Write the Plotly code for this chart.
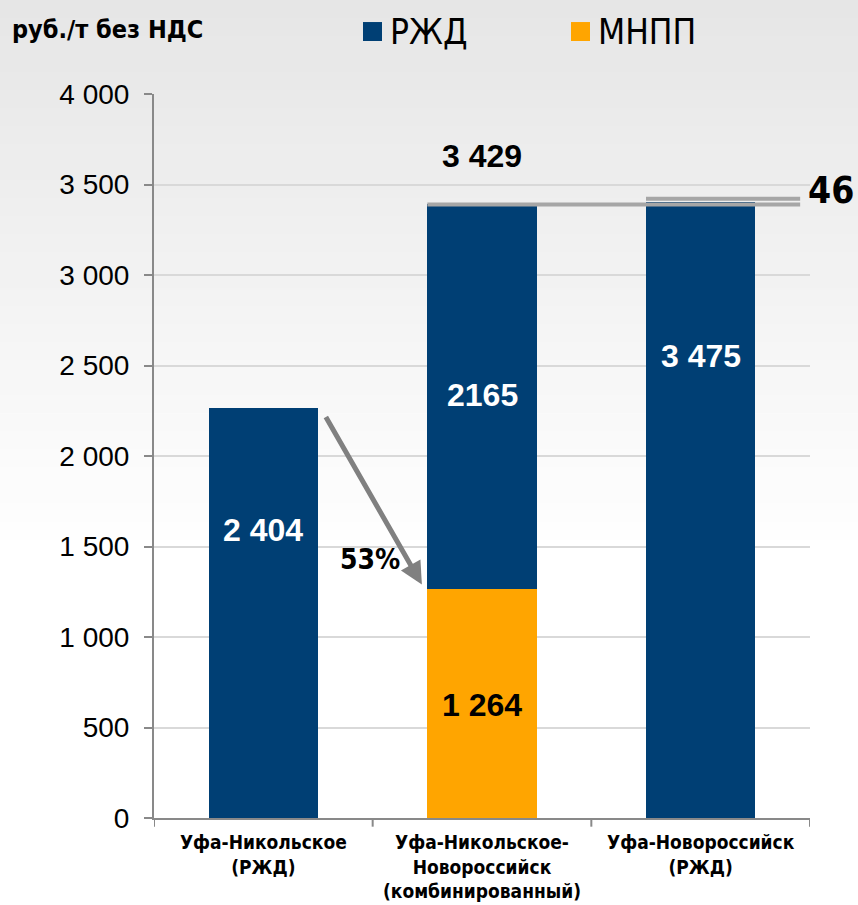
import plotly.graph_objects as go

categories = ["Уфа-Никольское<br>(РЖД)",
              "Уфа-Никольское-<br>Новороссийск<br>(комбинированный)",
              "Уфа-Новороссийск<br>(РЖД)"]
series_names = ["РЖД", "МНПП"]
rzd_values = [2263, 2125, 3405]
mnpp_values = [0, 1265, 0]
rzd_labels = ["2 404", "2165", "3 475"]
mnpp_label = "1 264"
total_label = "3 429"
diff_label = "46"
pct_label = "53%"
line_levels = [3389, 3421]
y_ticks = [0, 500, 1000, 1500, 2000, 2500, 3000, 3500, 4000]
y_ticktext = ["0", "500", "1 000", "1 500", "2 000", "2 500", "3 000", "3 500", "4 000"]
unit_title = "руб./т без НДС"

NAVY = "#003F74"
ORANGE = "#FFA500"
NARROW = "Liberation Sans Narrow, Arial Narrow, DejaVu Sans Condensed, sans-serif"
ARIAL = "Liberation Sans, Arial, sans-serif"

x_idx = list(range(len(categories)))

fig = go.Figure()
fig.add_trace(go.Bar(x=x_idx, y=mnpp_values, name=series_names[1], marker_color=ORANGE,
                     width=0.5, marker_line_width=0))
fig.add_trace(go.Bar(x=x_idx, y=rzd_values, name=series_names[0], marker_color=NAVY,
                     width=0.5, marker_line_width=0))

L, T, B = 154, 94, 818.3
H = B - T
def py2paper(py):
    return (B - py) / H
def px2paper(px):
    return (px - L) / 656.0

shapes = []
n = 30
for i in range(n):
    y0 = i * 18
    y1 = y0 + 18
    frac = min(1.0, (y0 + 9) / 540)
    c = int(0xE6 + (0xFF - 0xE6) * frac)
    shapes.append(dict(type="rect", xref="paper", yref="paper",
                       x0=px2paper(0), x1=px2paper(858), y0=py2paper(y1), y1=py2paper(y0),
                       fillcolor=f"rgb({c},{c},{c})", line_width=0, layer="below"))

shapes.append(dict(type="line", xref="x", yref="y", x0=0.75, x1=2.455,
                   y0=line_levels[0], y1=line_levels[0],
                   line=dict(color="#A6A6A6", width=4)))
shapes.append(dict(type="line", xref="x", yref="y", x0=1.75, x1=2.455,
                   y0=line_levels[1], y1=line_levels[1],
                   line=dict(color="#A6A6A6", width=4)))

shapes.append(dict(type="rect", xref="paper", yref="paper",
                   x0=px2paper(363), x1=px2paper(382), y0=py2paper(41), y1=py2paper(22),
                   fillcolor=NAVY, line_width=0))
shapes.append(dict(type="rect", xref="paper", yref="paper",
                   x0=px2paper(571), x1=px2paper(590), y0=py2paper(41), y1=py2paper(22),
                   fillcolor=ORANGE, line_width=0))

annotations = []
annotations.append(dict(text=series_names[0], xref="paper", yref="paper",
                        x=px2paper(388), y=py2paper(32), xanchor="left", yanchor="middle",
                        showarrow=False, font=dict(family=NARROW, size=35, color="black")))
annotations.append(dict(text=series_names[1], xref="paper", yref="paper",
                        x=px2paper(596), y=py2paper(32), xanchor="left", yanchor="middle",
                        showarrow=False, font=dict(family=NARROW, size=35, color="black")))
annotations.append(dict(text="<b>" + unit_title + "</b>", xref="paper", yref="paper",
                        x=px2paper(10), y=py2paper(29), xanchor="left", yanchor="middle",
                        showarrow=False, font=dict(family=NARROW, size=25, color="black")))

label_y = [1590, 2336, 2550]
for i, t in enumerate(rzd_labels):
    annotations.append(dict(text="<b>" + t + "</b>", x=i, y=label_y[i], xref="x", yref="y",
                            showarrow=False, font=dict(family=ARIAL, size=32, color="white")))
annotations.append(dict(text="<b>" + mnpp_label + "</b>", x=1, y=627, xref="x", yref="y",
                        showarrow=False, font=dict(family=ARIAL, size=32, color="black")))
annotations.append(dict(text="<b>" + total_label + "</b>", x=1, y=3660, xref="x", yref="y",
                        showarrow=False, font=dict(family=ARIAL, size=32, color="black")))
annotations.append(dict(text="<b>" + diff_label + "</b>", xref="paper", yref="y",
                        x=px2paper(856), y=3466, xanchor="right", showarrow=False,
                        font=dict(family=NARROW, size=37, color="black")))
annotations.append(dict(text="<b>" + pct_label + "</b>", x=0.49, y=1426, xref="x", yref="y",
                        showarrow=False, font=dict(family=NARROW, size=28, color="black")))
annotations.append(dict(text="", x=0.725, y=1290, xref="x", yref="y",
                        ax=0.282, ay=2224, axref="x", ayref="y",
                        showarrow=True, arrowhead=2, arrowsize=0.9, arrowwidth=5,
                        arrowcolor="#808080"))

fig.update_layout(
    barmode="stack",
    width=858, height=905,
    margin=dict(l=L, r=48, t=T, b=905 - B),
    paper_bgcolor="white",
    plot_bgcolor="rgba(0,0,0,0)",
    showlegend=False,
    shapes=shapes,
    annotations=annotations,
    xaxis=dict(range=[-0.5, 2.5], tickmode="array", tickvals=x_idx,
               ticktext=["<b>" + c + "</b>" for c in categories],
               showline=True, linecolor="#898989", linewidth=2,
               ticks="", showgrid=False, zeroline=False, automargin=False,
               ticklabelstandoff=6,
               tickfont=dict(family=NARROW, size=19, color="black")),
    yaxis=dict(range=[0, 4000], tickmode="array", tickvals=y_ticks, ticktext=y_ticktext,
               showline=True, linecolor="#898989", linewidth=2, automargin=False,
               ticks="outside", ticklen=8, tickcolor="#898989", tickwidth=2,
               ticklabelstandoff=9,
               showgrid=True, gridcolor="#D9D9D9", gridwidth=2, zeroline=False,
               tickfont=dict(family=ARIAL, size=28, color="black")),
)
for b in [-0.5, 0.5, 1.5, 2.5]:
    fig.add_shape(type="line", xref="x", yref="paper", x0=b, x1=b, y0=0, y1=-0.012,
                  line=dict(color="#898989", width=2))

fig.write_html("out.html", config={"displayModeBar": False},
               post_script="document.body.style.margin='0';")
